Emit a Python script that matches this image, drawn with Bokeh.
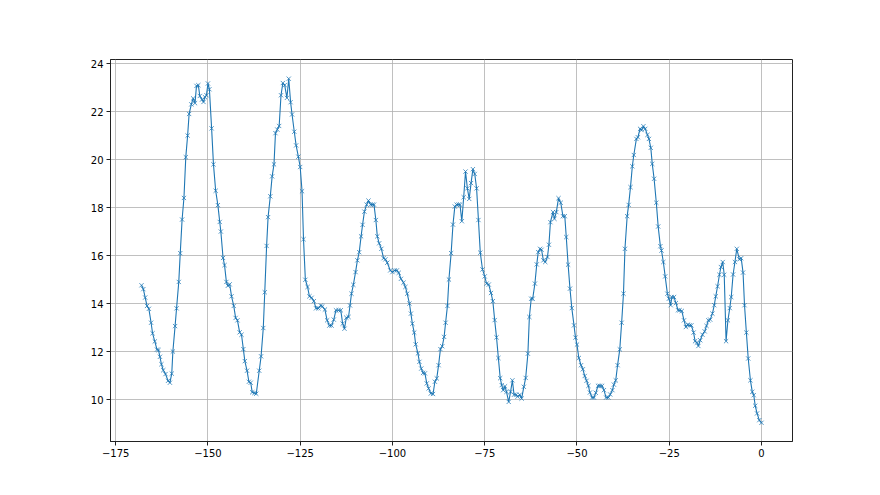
from bokeh.plotting import figure
from bokeh.models import Range1d, FixedTicker, ColumnDataSource
from bokeh.embed import file_html
from bokeh.resources import INLINE

# ---- data (hours before now, value) ----
hours = [
    -168.0, -167.5, -167.0, -166.5, -166.0, -165.4, -165.0, -164.4, -163.8, -163.4,
    -163.0, -162.6, -162.1, -161.5, -160.8, -160.3, -159.8, -159.5, -158.9, -158.5,
    -157.9, -157.5, -157.0, -156.5, -156.0, -155.5, -155.1, -154.5, -154.0, -153.5,
    -153.1, -152.6, -152.2, -151.6, -151.2, -150.8, -150.4, -150.0, -149.6, -149.0,
    -148.5, -147.9, -147.3, -146.8, -146.5, -145.9, -145.5, -145.0, -144.6, -144.1,
    -143.6, -143.0, -142.5, -142.0, -141.4, -140.9, -140.4, -140.0, -139.4, -138.9,
    -138.4, -138.0, -137.4, -136.9, -136.1, -135.6, -135.0, -134.6, -134.1, -133.7,
    -133.1, -132.6, -132.1, -131.7, -131.2, -130.7, -130.2, -129.7, -129.2, -128.6,
    -128.1, -127.6, -127.2, -126.6, -126.1, -125.5, -125.0, -124.5, -124.1, -123.6,
    -123.0, -122.5, -121.9, -121.3, -120.7, -120.1, -119.4, -119.0, -118.3, -117.7,
    -117.1, -116.5, -115.9, -115.3, -114.6, -114.0, -113.5, -113.0, -112.5, -111.9,
    -111.5, -111.1, -110.6, -110.0, -109.5, -109.0, -108.5, -108.1, -107.6, -107.0,
    -106.5, -105.9, -105.4, -105.0, -104.5, -104.1, -103.6, -103.0, -102.4, -101.9,
    -101.4, -100.6, -100.0, -99.4, -98.8, -98.3, -97.7, -97.0, -96.5, -96.0,
    -95.4, -95.0, -94.6, -94.1, -93.7, -93.1, -92.7, -92.2, -91.7, -91.2,
    -90.7, -90.2, -89.6, -89.0, -88.5, -88.0, -87.5, -87.0, -86.5, -86.0,
    -85.6, -85.1, -84.7, -84.1, -83.6, -83.1, -82.6, -82.1, -81.7, -81.2,
    -80.7, -80.2, -79.7, -79.2, -78.7, -78.2, -77.7, -77.2, -76.7,
    -76.2, -75.6, -75.0, -74.5, -73.9, -73.3, -72.8, -72.3, -71.8, -71.3,
    -70.8, -70.4, -70.0, -69.5, -69.1, -68.5, -68.0, -67.5, -67.05, -66.5,
    -66.1, -65.5, -65.0, -64.4, -63.9, -63.3, -62.9, -62.4, -62.0, -61.4,
    -60.9, -60.5, -60.0, -59.6, -59.1, -58.6, -58.0, -57.6, -57.2,
    -56.5, -56.1, -55.6, -55.0, -54.4, -53.8, -53.3, -52.9, -52.4, -51.9,
    -51.4, -50.8, -50.4, -50.0, -49.5, -48.9, -48.4, -47.9, -47.4, -46.9,
    -46.5, -45.9, -45.4, -44.9, -44.3, -43.8, -43.2, -42.7, -42.1, -41.5,
    -41.0, -40.4, -40.0, -39.5, -39.0, -38.4, -37.9, -37.4, -37.0, -36.4,
    -36.0, -35.5, -35.0, -34.6, -33.9, -33.5, -32.9, -32.5, -32.0, -31.5,
    -30.9, -30.5, -30.0,
    -29.6, -29.1, -28.5, -28.0, -27.4, -27.1, -26.6, -26.1, -25.5, -25.1,
    -24.6, -24.3, -23.7, -23.2, -22.6, -22.2, -21.6, -21.0, -20.5, -20.0,
    -19.5, -19.0, -18.4, -18.0, -17.5, -17.1, -16.6, -16.0, -15.4, -14.9,
    -14.4, -13.9, -13.3, -12.8, -12.4, -11.9, -11.4, -11.0, -10.5, -10.1,
    -9.6, -9.1, -8.6, -8.2, -7.7, -7.2, -6.7, -6.0, -5.5, -5.0,
    -4.6, -4.1, -3.6, -3.0, -2.5, -2.1, -1.7, -1.2, -0.6, 0.0,
]

values = [
    14.76, 14.6, 14.25, 13.9, 13.78, 13.2, 12.76, 12.42, 12.08, 12.06,
    11.78, 11.47, 11.22, 11.06, 10.78, 10.7, 11.08, 12.0, 13.06, 13.8,
    14.9, 16.1, 17.5, 18.4, 20.1, 21.0, 21.9, 22.3, 22.55, 22.35,
    23.07, 23.1, 22.65, 22.5, 22.4, 22.6, 22.68, 23.17, 22.93, 21.3,
    19.8, 18.7, 18.1, 17.4, 17.0, 15.9, 15.6, 14.9, 14.74, 14.8,
    14.3, 13.9, 13.4, 13.3, 12.8, 12.7, 12.1, 11.6, 11.2, 10.74,
    10.7, 10.3, 10.27, 10.24, 11.2, 11.8, 12.98, 14.47, 16.4, 17.6,
    18.47, 19.3, 19.8, 21.1, 21.25, 21.4, 22.68, 23.19, 23.1, 22.57,
    23.37, 22.39, 21.88, 21.16, 20.59, 20.12, 19.69, 18.68, 16.68, 14.99,
    14.69, 14.3, 14.24, 14.1, 13.8, 13.8, 13.92, 13.88, 13.75, 13.3,
    13.08, 13.08, 13.33, 13.72, 13.72, 13.72, 13.16, 12.95, 13.41, 13.44,
    13.92, 14.41, 14.78, 15.31, 15.8, 16.14, 16.8, 17.28, 17.83, 18.12,
    18.29, 18.12, 18.12, 18.12, 17.48, 16.8, 16.51, 16.28, 15.89, 15.84,
    15.7, 15.38, 15.31, 15.38, 15.38, 15.28, 15.03, 14.87, 14.69, 14.41,
    14.0, 13.58, 13.16, 12.79, 12.3, 11.92, 11.57, 11.29, 11.11, 11.09,
    10.67, 10.46, 10.25, 10.23, 10.74, 10.88, 11.43, 12.1, 12.22, 12.61,
    13.2, 13.9, 15.0, 16.1, 17.29, 18.04, 18.12, 18.12, 18.12, 17.43,
    18.43, 19.5, 18.8, 18.36, 19.02, 19.6, 19.4, 18.8, 17.48,
    16.12, 15.42, 15.13, 14.83, 14.79, 14.44, 14.1, 13.31, 12.59, 11.73,
    10.89, 10.6, 10.39, 10.55, 10.32, 9.9, 10.32, 10.8, 10.2, 10.2,
    10.12, 10.2, 10.04, 10.53, 10.9, 11.91, 13.44, 14.2, 14.2, 14.83,
    15.63, 16.14, 16.28, 16.24, 15.8, 15.73, 15.94, 16.45, 17.39,
    17.81, 17.53, 17.81, 18.39, 18.2, 17.64, 17.64, 16.77, 15.62, 14.62,
    13.81, 13.09, 12.58, 12.29, 11.73, 11.43, 11.26, 10.98, 10.78, 10.57,
    10.29, 10.08, 10.08, 10.28, 10.57, 10.57, 10.57, 10.39, 10.08, 10.08,
    10.21, 10.39, 10.62, 10.8, 11.43, 12.09, 13.2, 14.41, 16.28, 17.64,
    18.11, 18.85, 19.72, 20.19, 20.86, 20.93, 21.28, 21.23, 21.39, 21.28,
    21.03, 20.86, 20.49,
    19.82, 19.2, 18.2, 17.21, 16.39, 16.21, 15.73, 15.13, 14.41, 14.2,
    13.93, 14.27, 14.27, 14.02, 13.72, 13.72, 13.69, 13.3, 13.02, 13.12,
    13.09, 13.09, 12.79, 12.43, 12.37, 12.23, 12.47, 12.7, 12.84, 13.07,
    13.3, 13.33, 13.58, 13.93, 14.3, 14.72, 15.2, 15.52, 15.73, 15.2,
    12.43, 13.3, 13.81, 14.27, 15.21, 15.73, 16.28, 15.84, 15.89, 15.29,
    13.93, 12.79, 11.71, 10.8, 10.32, 10.18, 9.74, 9.42, 9.14, 9.03,
]

x_ticks = [-175, -150, -125, -100, -75, -50, -25, 0]
x_tick_labels = ["\u2212175", "\u2212150", "\u2212125", "\u2212100", "\u221275", "\u221250", "\u221225", "0"]
y_ticks = [10, 12, 14, 16, 18, 20, 22, 24]
y_tick_labels = ["10", "12", "14", "16", "18", "20", "22", "24"]

src = ColumnDataSource(data=dict(x=hours, y=values))

p = figure(width=864, height=478, output_backend="svg", toolbar_location=None,
           x_range=Range1d(-176.4, 8.4), y_range=Range1d(8.25, 24.17),
           min_border_left=110, min_border_top=59, min_border_right=72,
           min_border_bottom=37)
p.background_fill_color = "white"
p.border_fill_color = "white"
p.outline_line_color = "#222222"
p.outline_line_width = 1

color = "#1f77b4"
p.line("x", "y", source=src, line_color=color, line_width=1.1)
p.scatter("x", "y", source=src, marker="x", size=6, line_color=color,
          line_width=0.9, line_alpha=0.85)

p.xaxis.ticker = FixedTicker(ticks=x_ticks)
p.yaxis.ticker = FixedTicker(ticks=y_ticks)
p.xaxis.major_label_overrides = dict(zip(x_ticks, x_tick_labels))
p.yaxis.major_label_overrides = dict(zip(y_ticks, y_tick_labels))

for ax in (p.xaxis, p.yaxis):
    ax.axis_line_color = "#222222"
    ax.major_tick_line_color = "#222222"
    ax.major_tick_out = 4
    ax.major_tick_in = 0
    ax.minor_tick_line_color = None
    ax.major_label_text_font = "DejaVu Sans"
    ax.major_label_text_font_size = "10px"
    ax.major_label_text_color = "#000000"
    ax.major_label_standoff = 3

for g in (p.xgrid, p.ygrid):
    g.grid_line_color = "#b0b0b0"
    g.grid_line_width = 0.8

open("out.html", "w").write(file_html(p, INLINE))
